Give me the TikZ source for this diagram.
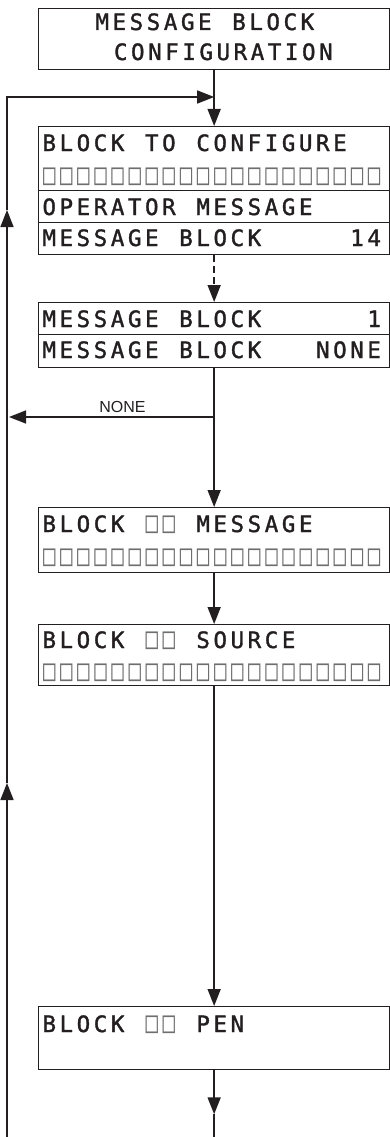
\documentclass[tikz,border=0pt]{standalone}
\usepackage{fontspec}
\usepackage{xcolor}
\usepackage{graphicx}
\usetikzlibrary{arrows.meta,positioning}
\setmainfont{Liberation Sans}
\newfontfamily\lcdfont[FakeBold=1.5]{DejaVu Sans Mono}
\newfontfamily\cellfont{DejaVu Sans Mono}
\definecolor{inkblack}{RGB}{35,31,32}
\definecolor{boxgray}{RGB}{110,110,110}

% one character per display cell
\def\lcdpitch{17.1pt}
\ExplSyntaxOn
\NewDocumentCommand\lcdtxt{m}
  {
    \str_map_inline:nn {#1}
      {
        \makebox[\lcdpitch]{\str_if_eq:nnTF {##1} {□}
          {\textcolor{boxgray}{\cellfont\scalebox{0.92}[1.32]{##1}}} {##1}}
      }
  }
\ExplSyntaxOff

\begin{document}
\begin{tikzpicture}[x=1pt,y=-1pt,
    panel/.style={draw=inkblack, line width=1.3pt, anchor=north west,
      minimum width=351pt, inner sep=0pt},
    lcdline/.style={anchor=base west, inner sep=0pt, text=inkblack,
      font=\lcdfont\fontsize{22.5}{22.5}\selectfont},
    flow/.style={draw=inkblack, line width=1.6pt,
      -{Triangle[length=17pt,width=13pt]}},
    wire/.style={draw=inkblack, line width=1.6pt},
    nonelabel/.style={anchor=base, inner sep=0pt, text=inkblack,
      font=\fontsize{16}{16}\selectfont}]
    \useasboundingbox (0,0) rectangle (390,1137);

    % display screens
    \node[panel, minimum height=61pt] (title) at (38,8) {};
    \node[panel, minimum height=64pt] (pick) at (38,126) {};
    \node[panel, minimum height=32pt] (opmsg) at (38,190) {};
    \node[panel, minimum height=32pt] (blk14) at (38,222) {};
    \node[panel, minimum height=32pt] (blk1) at (38,302) {};
    \node[panel, minimum height=33pt] (blknone) at (38,334) {};
    \node[panel, minimum height=65pt] (msgblk) at (38,507) {};
    \node[panel, minimum height=61pt] (srcblk) at (38,624) {};
    \node[panel, minimum height=63pt] (penblk) at (38,1006) {};

    % screen texts
    \node[lcdline] (title1) at (93.5,30) {\lcdtxt{MESSAGE BLOCK}};
    \node[lcdline] (title2) at (112,60) {\lcdtxt{CONFIGURATION}};
    \node[lcdline] (pickhd) at (40.5,151) {\lcdtxt{BLOCK TO CONFIGURE}};
    \node[lcdline] (picksq) at (40.5,184) {\lcdtxt{□□□□□□□□□□□□□□□□□□□□}};
    \node[lcdline] (opmsgtxt) at (40.5,215) {\lcdtxt{OPERATOR MESSAGE}};
    \node[lcdline] (blk14txt) at (40.5,246) {\lcdtxt{MESSAGE BLOCK}};
    \node[lcdline] (blk14val) at (348.3,246) {\lcdtxt{14}};
    \node[lcdline] (blk1txt) at (40.5,327) {\lcdtxt{MESSAGE BLOCK}};
    \node[lcdline] (blk1val) at (365.4,327) {\lcdtxt{1}};
    \node[lcdline] (blknonetxt) at (40.5,358) {\lcdtxt{MESSAGE BLOCK}};
    \node[lcdline] (blknoneval) at (314.1,358) {\lcdtxt{NONE}};
    \node[lcdline] (msghd) at (40.5,532) {\lcdtxt{BLOCK □□ MESSAGE}};
    \node[lcdline] (msgsq) at (40.5,565) {\lcdtxt{□□□□□□□□□□□□□□□□□□□□}};
    \node[lcdline] (srchd) at (40.5,648) {\lcdtxt{BLOCK □□ SOURCE}};
    \node[lcdline] (srcsq) at (40.5,680) {\lcdtxt{□□□□□□□□□□□□□□□□□□□□}};
    \node[lcdline] (penhd) at (40.5,1032) {\lcdtxt{BLOCK □□ PEN}};

    % return loop on the left
    \coordinate (loopbot) at (7,1137);
    \coordinate (loopup) at (7,783);
    \coordinate (loopmid) at (7,210);
    \coordinate (loopcorner) at (7,97);
    \coordinate (join) at (pick.north |- loopcorner);
    \draw[flow] (loopbot) -- (loopup);
    \draw[flow] (loopup) -- (loopmid);
    \draw[flow] (loopmid) -- (loopcorner) -- (join);

    % main flow
    \draw[flow] (title) -- (pick);
    \draw[flow, dash pattern=on 7pt off 4pt] (blk14) -- (blk1);
    \draw[flow] (blknone) -- (msgblk);
    \coordinate (noneend) at (9,417);
    \coordinate (fork) at (blknone.south |- noneend);
    \draw[flow] (fork) -- (noneend);
    \node[nonelabel] (nonetxt) at (122.5,412) {NONE};
    \draw[flow] (msgblk) -- (srcblk);
    \draw[flow] (srcblk) -- (penblk);
    \path (penblk.south) ++(0,44) coordinate (outtip);
    \path (penblk.south) ++(0,68) coordinate (outend);
    \draw[flow] (penblk) -- (outtip);
    \draw[wire] (outtip) -- (outend);
\end{tikzpicture}
\end{document}
